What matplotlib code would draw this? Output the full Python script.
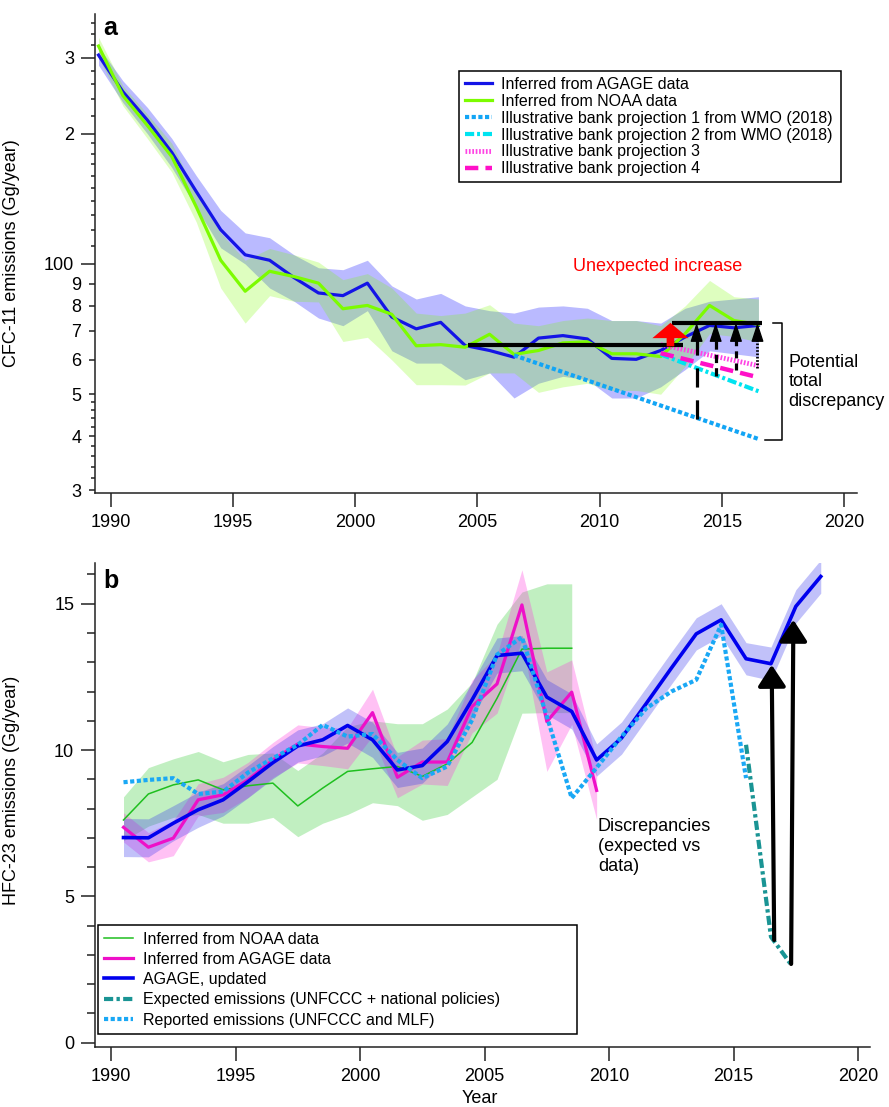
import numpy as np
import matplotlib.pyplot as plt
from matplotlib.ticker import FixedLocator, FixedFormatter, NullFormatter, NullLocator, MultipleLocator

plt.rcParams['font.family'] = ['Liberation Sans', 'DejaVu Sans']

# ---- panel a: CFC-11 (Gg/year), mid-year values ----
cfc_years = np.arange(1989.5, 2017.0, 1.0)
agage_cfc = [304, 250, 215, 181, 147, 120, 105, 102, 93, 85.7, 84.5, 90.3, 75.4, 70.8,
             73.3, 64.8, 63.1, 60.9, 67.4, 68.3, 67.1, 60.5, 60.2, 63.1, 67.8, 72.1, 71.2, 72.1]
agage_cfc_lo = [288, 236, 200, 167, 135, 109, 100, 88, 82, 75, 72, 78, 63, 59,
                59, 54, 56, 49, 53, 55, 54, 49, 49, 52, 57, 63, 62, 61]
agage_cfc_hi = [318, 265, 230, 195, 160, 133, 118, 115, 105, 98, 97, 102, 89, 83,
                85.5, 80, 78, 77, 79.5, 80, 79, 74, 74, 73, 79, 82, 83, 84]
noaa_cfc = [319, 245, 209, 177, 135.5, 102, 86.5, 96.2, 93.5, 90.3, 78.8, 80.2, 76.5, 64.7,
            65.1, 64.2, 68.8, 61.8, 63.1, 65.7, 66.1, 62, 62, 61.1, 69, 80.2, 74, 72.5]
noaa_cfc_lo = [300, 232, 195, 163, 125, 88, 73, 84.5, 82, 81.7, 66.2, 67.7, 60, 52.6,
               52.6, 52.5, 56, 56, 50.5, 52, 53, 51, 51, 50, 58, 69, 68, 66]
noaa_cfc_hi = [334, 258, 222, 190, 145, 118, 102, 108.6, 105, 101, 92, 95, 88, 77,
               76, 77, 80.5, 73, 72, 74, 75, 74, 74, 72, 80, 91.6, 84, 83]

proj1_years, proj1_vals = [2006.5, 2016.5], [61.5, 39.4]
proj2_years, proj2_vals = [2012.5, 2016.5], [61.8, 50.8]
proj3_years, proj3_vals = [2012.5, 2016.5], [65.1, 58.2]
proj4_years, proj4_vals = [2012.5, 2016.5], [62.2, 54.7]

baseline_years, baseline_level = [2004.6, 2013.4], 64.8
observed_years, observed_level = [2012.96, 2016.65], 73.1
gap_years = [2013.97, 2014.75, 2015.58, 2016.46]
gap_tails = [43.9, 55.2, 56.8, 57.6]

# ---- panel b: HFC-23 (Gg/year) ----
upd_years = np.arange(1990.5, 2019.0, 1.0)
agage_upd = [7.01, 7.0, 7.5, 7.96, 8.30, 8.92, 9.57, 10.14, 10.35, 10.84, 10.35, 9.32, 9.47, 10.29,
             11.72, 13.23, 13.31, 11.81, 11.32, 9.66, 10.41, 11.60, 12.80, 13.97, 14.45, 13.12,
             12.95, 14.91, 15.93]
agage_upd_unc = [0.65, 0.65, 0.6, 0.6, 0.55, 0.55, 0.55, 0.55, 0.55, 0.6, 0.6, 0.6, 0.6, 0.6,
                 0.6, 0.6, 0.6, 0.6, 0.6, 0.55, 0.55, 0.55, 0.55, 0.55, 0.55, 0.55, 0.57, 0.57, 0.57]

old_years = np.arange(1990.5, 2010.0, 1.0)
agage_old = [7.36, 6.68, 6.99, 8.30, 8.47, 8.98, 9.66, 10.21, 10.12, 10.06, 11.28, 9.07, 9.59,
             9.59, 11.49, 12.26, 14.96, 10.97, 11.98, 8.62]
agage_old_unc = [0.5, 0.5, 0.6, 0.55, 0.6, 0.6, 0.6, 0.65, 0.65, 0.7, 0.8, 0.7, 0.75, 0.8,
                 0.9, 1.0, 1.2, 1.7, 1.1, 1.0]

noaa_years = np.arange(1990.5, 2009.0, 1.0)
noaa_hfc = [7.61, 8.50, 8.81, 8.98, 8.64, 8.78, 8.87, 8.09, 8.70, 9.27, 9.36, 9.44, 9.10, 9.53,
            10.26, 11.77, 13.45, 13.48, 13.48]
noaa_hfc_lo = [6.9, 7.4, 7.7, 7.8, 7.5, 7.5, 7.7, 7.04, 7.5, 7.8, 8.2, 8.1, 7.6, 7.8,
               8.4, 9.0, 11.26, 11.28, 11.28]
noaa_hfc_hi = [8.4, 9.4, 9.7, 9.95, 9.6, 9.85, 9.9, 9.3, 9.9, 10.8, 11.0, 10.9, 10.9, 11.4,
               12.3, 14.3, 15.4, 15.68, 15.68]

rep_years = np.arange(1990.5, 2016.0, 1.0)
reported = [8.90, 8.98, 9.04, 8.50, 8.58, 9.23, 9.72, 10.18, 10.86, 10.46, 10.55, 9.66, 9.04,
            9.44, 11.03, 13.26, 13.86, 11.15, 8.36, 9.40, 10.46, 11.43, 12.0, 12.40, 14.28, 9.04]

exp_years = [2015.5, 2016.5, 2017.35]
expected = [10.18, 3.62, 2.62]

arrow_b_tails = [(2016.63, 3.51), (2017.31, 2.69)]
arrow_b_heads = [(2016.53, 12.91), (2017.40, 14.45)]

FS = 13
SPINE = 1.1

fig = plt.figure(figsize=(8.89, 11.07), dpi=100)
ax1 = fig.add_axes([0.1069, 0.5544, 0.8571, 0.4330])
ax2 = fig.add_axes([0.1069, 0.05447, 0.8718, 0.4369])

for ax in (ax1, ax2):
    for s in ('top', 'right'):
        ax.spines[s].set_visible(False)
    for s in ('left', 'bottom'):
        ax.spines[s].set_linewidth(SPINE)
        ax.spines[s].set_color('#222222')
    ax.tick_params(which='both', direction='out', width=SPINE, colors='#222222', labelsize=FS,
                   labelcolor='black')
    ax.tick_params(which='major', length=10, pad=5)
    ax.xaxis.set_major_locator(FixedLocator([1990, 1995, 2000, 2005, 2010, 2015, 2020]))

# ---------- panel a ----------
ax1.set_yscale('log')
ax1.set_xlim(1989.358, 2020.532)
ax1.set_ylim(29.51, 378.4)

ax1.fill_between(cfc_years, agage_cfc_lo, agage_cfc_hi, color='#0000ff', alpha=0.27, lw=0)
l_agage, = ax1.plot(cfc_years, agage_cfc, color='#1414e6', lw=2.3, label='Inferred from AGAGE data')
ax1.fill_between(cfc_years, noaa_cfc_lo, noaa_cfc_hi, color='#7cfc00', alpha=0.25, lw=0)
l_noaa, = ax1.plot(cfc_years, noaa_cfc, color='#7cfc00', lw=2.3, label='Inferred from NOAA data')

l_p1, = ax1.plot(proj1_years, proj1_vals, color='#12a5f5', lw=3, ls=(0, (1, 0.6)),
                 label='Illustrative bank projection 1 from WMO (2018)')
l_p2, = ax1.plot(proj2_years, proj2_vals, color='#00e3f0', lw=3, ls=(0, (2.2, 0.7, 0.7, 0.7)),
                 label='Illustrative bank projection 2 from WMO (2018)')
l_p3, = ax1.plot(proj3_years, proj3_vals, color='#ff44e4', lw=3.5, ls=(0, (0.35, 0.35)),
                 label='Illustrative bank projection 3')
l_p4, = ax1.plot(proj4_years, proj4_vals, color='#ff10c8', lw=3.2, ls=(0, (3, 1.6)),
                 label='Illustrative bank projection 4')

ax1.plot(baseline_years, [baseline_level] * 2, color='black', lw=3, solid_capstyle='butt')
ax1.plot(observed_years, [observed_level] * 2, color='black', lw=3, solid_capstyle='butt')

gap_styles = [(0, (6, 4)), (0, (2.6, 1.6)), (0, (2.2, 1.6)), (0, (0.6, 0.6))]
for x, tail, st in zip(gap_years, gap_tails, gap_styles):
    ax1.plot([x, x], [tail, observed_level * 0.93], color='black', lw=2.3 if st != gap_styles[3] else 2,
             ls=st)
    ax1.annotate('', xy=(x, observed_level), xytext=(0, -12), textcoords='offset points',
                 arrowprops=dict(arrowstyle='-|>,head_length=1.16,head_width=0.38', color='black',
                                 lw=1, shrinkA=0, shrinkB=0, mutation_scale=10))

ax1.annotate('', xy=(2012.9, observed_level), xytext=(2012.9, 64.5),
             arrowprops=dict(arrowstyle='simple,head_length=1.1,head_width=2.6,tail_width=0.55',
                             color='red', lw=0, shrinkA=0, shrinkB=0, mutation_scale=10))
ax1.text(2012.39, 98.6, 'Unexpected increase', color='red', fontsize=FS, ha='center', va='center')

ax1.plot([2017.11, 2017.45, 2017.45, 2016.77], [73.0, 73.0, 39.2, 39.2], color='black', lw=1.1)
ax1.text(2017.72, 53.4, 'Potential\ntotal\ndiscrepancy', fontsize=FS, ha='left', va='center')

ax1.yaxis.set_major_locator(FixedLocator([100, 200, 300]))
ax1.yaxis.set_major_formatter(FixedFormatter(['100', '2', '3']))
ax1.yaxis.set_minor_locator(FixedLocator([30, 40, 50, 60, 70, 80, 90]))
ax1.yaxis.set_minor_formatter(FixedFormatter(['3', '4', '5', '6', '7', '8', '9']))
ax1.tick_params(axis='y', which='minor', length=4.5, pad=5.5, labelsize=FS)
ax1.xaxis.set_minor_locator(NullLocator())

# tiny unlabeled ticks
axt = ax1.twinx()
axt.set_yscale('log')
axt.set_ylim(ax1.get_ylim())
for s in axt.spines.values():
    s.set_visible(False)
axt.yaxis.set_ticks_position('left')
axt.yaxis.set_major_locator(FixedLocator([32, 34, 36, 38, 42, 44, 46, 48, 110, 120, 130, 140, 150,
                                          160, 170, 180, 190, 220, 240, 260, 280, 320, 340, 360]))
axt.yaxis.set_major_formatter(NullFormatter())
axt.yaxis.set_minor_locator(NullLocator())
axt.tick_params(axis='y', which='major', length=2.8, width=SPINE, colors='#222222', direction='out')

ax1.set_ylabel('CFC-11 emissions (Gg/year)', fontsize=FS)
ax1.yaxis.set_label_coords(-0.098, 0.5)
ax1.text(0.0105, 0.956, 'a', transform=ax1.transAxes, fontsize=18, fontweight='bold', va='baseline')

leg1 = ax1.legend(handles=[l_agage, l_noaa, l_p1, l_p2, l_p3, l_p4], loc='lower left',
                  bbox_to_anchor=(0.4777, 0.6495, 0.5013, 0.2295), mode='expand', borderaxespad=0,
                  fontsize=11.5, frameon=True, fancybox=False, edgecolor='black', framealpha=1,
                  borderpad=0.35, labelspacing=0.12, handlelength=1.7, handletextpad=0.6)
leg1.get_frame().set_linewidth(1.1)

# ---------- panel b ----------
ax2.set_xlim(1989.357, 2020.48)
ax2.set_ylim(-0.137, 16.39)

ax2.fill_between(noaa_years, noaa_hfc_lo, noaa_hfc_hi, color='#33cc33', alpha=0.3, lw=0)
h_noaa, = ax2.plot(noaa_years, noaa_hfc, color='#1fbf1f', lw=1.1, label='Inferred from NOAA data')
old = np.array(agage_old)
old_unc = np.array(agage_old_unc)
ax2.fill_between(old_years, old - old_unc, old + old_unc, color='#ff33dd', alpha=0.3, lw=0)
h_old, = ax2.plot(old_years, agage_old, color='#ee10c8', lw=2.3, label='Inferred from AGAGE data')
upd = np.array(agage_upd)
upd_unc = np.array(agage_upd_unc)
ax2.fill_between(upd_years, upd - upd_unc, upd + upd_unc, color='#3333ee', alpha=0.3, lw=0)
h_upd, = ax2.plot(upd_years, agage_upd, color='#0000ee', lw=2.6, label='AGAGE, updated')
h_rep, = ax2.plot(rep_years, reported, color='#1aa8f5', lw=3, ls=(0, (1, 0.6)),
                  label='Reported emissions (UNFCCC and MLF)')
h_exp, = ax2.plot(exp_years, expected, color='#1a9494', lw=3, ls=(0, (2.2, 0.8, 0.8, 0.8)),
                  label='Expected emissions (UNFCCC + national policies)')

for tail, head in zip(arrow_b_tails, arrow_b_heads):
    ax2.annotate('', xy=head, xytext=tail,
                 arrowprops=dict(arrowstyle='-|>,head_length=1.3,head_width=0.85', color='black',
                                 lw=3, shrinkA=0, shrinkB=0, mutation_scale=10))

ax2.text(2009.55, 7.68, 'Discrepancies\n(expected vs\ndata)', fontsize=FS, ha='left', va='top',
         linespacing=1.25)

ax2.yaxis.set_major_locator(FixedLocator([0, 5, 10, 15]))
ax2.yaxis.set_minor_locator(MultipleLocator(1))
ax2.xaxis.set_minor_locator(NullLocator())
ax2.tick_params(axis='y', which='minor', length=6)

ax2.set_ylabel('HFC-23 emissions (Gg/year)', fontsize=FS)
ax2.yaxis.set_label_coords(-0.097, 0.53)
ax2.set_xlabel('Year', fontsize=FS)
ax2.xaxis.set_label_coords(0.497, -0.0895)
ax2.text(0.0105, 0.948, 'b', transform=ax2.transAxes, fontsize=18, fontweight='bold', va='baseline')

leg2 = ax2.legend(handles=[h_noaa, h_old, h_upd, h_exp, h_rep], loc='lower left',
                  bbox_to_anchor=(0.0039, 0.0263, 0.618, 0.2253), mode='expand', borderaxespad=0,
                  fontsize=11.5, frameon=True, fancybox=False, edgecolor='black', framealpha=1,
                  borderpad=0.4, labelspacing=0.33, handlelength=1.8, handletextpad=0.6)
leg2.get_frame().set_linewidth(1.1)

fig.savefig('out.png', dpi=100)
